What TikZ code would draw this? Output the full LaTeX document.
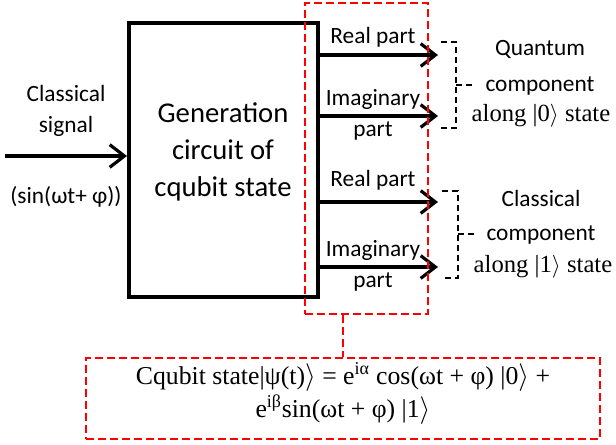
\documentclass[tikz,border=0pt]{standalone}
\usepackage{fontspec}
\setmainfont{Liberation Serif}
\newfontfamily\calib{Carlito}
\usetikzlibrary{arrows.meta}

\newcommand{\kt}[1]{|#1$\rangle$}

\begin{document}
\begin{tikzpicture}[x=0.75pt,y=-0.75pt,
    sig/.style={line width=3pt,-{Straight Barb[length=11pt,width=17pt,line width=2.4pt]}},
    redbox/.style={draw=red,line width=1.8pt,dash pattern=on 6pt off 3pt},
    brace/.style={line width=1.4pt,dash pattern=on 4.5pt off 3pt},
    lbl/.style={font=\calib\fontsize{17.5}{23.5}\selectfont,align=center,inner sep=0pt},
    srf/.style={font=\fontsize{18.5}{25}\selectfont,align=center,inner sep=0pt}]
    \useasboundingbox (0,0) rectangle (616,445);
    % generation block
    \node[draw, line width=3pt, minimum width=141.75pt, minimum height=205.5pt] (blk) at (223.5,160) {};
    \node[lbl, font=\calib\fontsize{21.5}{27.5}\selectfont] (gen) at (223,152) {Generation\\circuit of\\cqubit state};
    % input signal
    \coordinate (src) at (5,156);
    \draw[sig] (src) -- (src -| blk.west);
    \node[lbl] (cls) at (66,111) {Classical\\signal};
    \node[lbl] (sin) at (66,197) {(sin(ωt+ φ))};
    % outputs
    \coordinate (re0) at (438,55);
    \coordinate (im0) at (438,116);
    \coordinate (re1) at (438,202);
    \coordinate (im1) at (438,267);
    \foreach \o in {re0,im0,re1,im1}
        \draw[sig] (blk.east |- \o) -- (\o);
    \node[lbl] (lre0) at (373,37) {Real part};
    \node[lbl] (lim0) at (373,115) {Imaginary\\part};
    \node[lbl] (lre1) at (373,180) {Real part};
    \node[lbl] (lim1) at (373,266) {Imaginary\\part};
    % braces
    \draw[brace] (441,42) -- (456,42) -- (456,128) -- (441,128);
    \draw[brace] (456,85) -- (473,85);
    \draw[brace] (442,191) -- (458,191) -- (458,278) -- (442,278);
    \draw[brace] (458,234) -- (475,234);
    \node[lbl, font=\calib\fontsize{17.5}{27}\selectfont] (qc) at (540,68) {Quantum\\component};
    \node[srf] (q0) at (541,116) {along \kt{0} state};
    \node[lbl, font=\calib\fontsize{17.5}{25.5}\selectfont] (cc) at (541,217) {Classical\\component};
    \node[srf] (c1) at (543,267) {along \kt{1} state};
    % cqubit state
    \node[redbox, minimum width=92.25pt, minimum height=233.25pt] (grp) at (366.5,158.5) {};
    \node[redbox, minimum width=385.5pt, minimum height=60.75pt] (eq) at (343,398.5) {};
    \draw[redbox] (eq.north |- grp.south) -- (eq.north);
    \node[srf, font=\fontsize{19.3}{24.75}\selectfont] (eqt) at (343,393.5)
        {Cqubit state\kt{ψ(t)} = e\textsuperscript{iα} cos(ωt + φ) \kt{0} +\\
         e\textsuperscript{iβ}sin(ωt + φ) \kt{1}};
\end{tikzpicture}
\end{document}
